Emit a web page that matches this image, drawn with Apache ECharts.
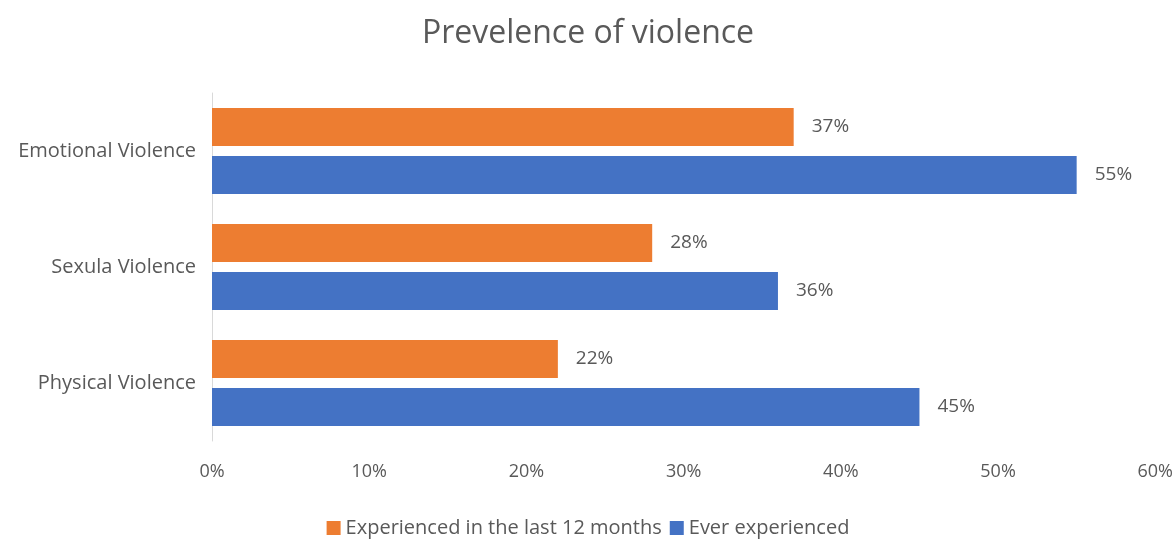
<!DOCTYPE html>
<html>
<head>
<meta charset="utf-8">
<script src="https://cdn.jsdelivr.net/npm/echarts@6/dist/echarts.min.js"></script>
<style>html,body{margin:0;padding:0;background:#fff}#c{width:1176px;height:539px}</style>
</head>
<body>
<div id="c"></div>
<script>
var categories = ['Emotional Violence', 'Sexula Violence', 'Physical Violence'];
var last12Months = [37, 28, 22];
var everExperienced = [55, 36, 45];
var xTicks = [0, 10, 20, 30, 40, 50, 60];

var FONT = 'Open Sans';
var chart = echarts.init(document.getElementById('c'));
chart.setOption({
  animation: false,
  title: {
    text: 'Prevelence of violence',
    left: 'center',
    top: 13,
    textStyle: { fontFamily: FONT, fontSize: 32, fontWeight: 'normal', color: '#595959' }
  },
  legend: {
    data: ['Experienced in the last 12 months', 'Ever experienced'],
    top: 513,
    left: 'center',
    itemWidth: 14,
    itemHeight: 14,
    itemGap: 8,
    icon: 'rect',
    textStyle: { fontFamily: FONT, fontSize: 20, color: '#595959' }
  },
  grid: { left: 212, right: 9, top: 93, bottom: 98, containLabel: false },
  xAxis: {
    type: 'value',
    min: 0, max: 60, interval: 10,
    axisLine: { show: false },
    axisTick: { show: false },
    splitLine: { show: false },
    axisLabel: {
      margin: 22,
      fontFamily: FONT, fontSize: 18, color: '#595959',
      formatter: function (v) { return xTicks.indexOf(v) >= 0 ? v + '%' : ''; }
    }
  },
  yAxis: {
    type: 'category',
    inverse: true,
    data: categories,
    axisLine: { show: true, lineStyle: { color: '#D9D9D9', width: 1 } },
    axisTick: { show: false },
    axisLabel: { margin: 16, fontFamily: FONT, fontSize: 20, color: '#595959' }
  },
  series: [
    {
      name: 'Experienced in the last 12 months',
      type: 'bar',
      data: last12Months,
      barWidth: 38,
      barGap: '26%',
      itemStyle: { color: '#ED7D31' },
      label: { show: true, position: 'right', distance: 18, formatter: '{c}%', fontFamily: FONT, fontSize: 19, color: '#595959' }
    },
    {
      name: 'Ever experienced',
      type: 'bar',
      data: everExperienced,
      barWidth: 38,
      barGap: '26%',
      itemStyle: { color: '#4472C4' },
      label: { show: true, position: 'right', distance: 18, formatter: '{c}%', fontFamily: FONT, fontSize: 19, color: '#595959' }
    }
  ]
});
</script>
</body>
</html>
